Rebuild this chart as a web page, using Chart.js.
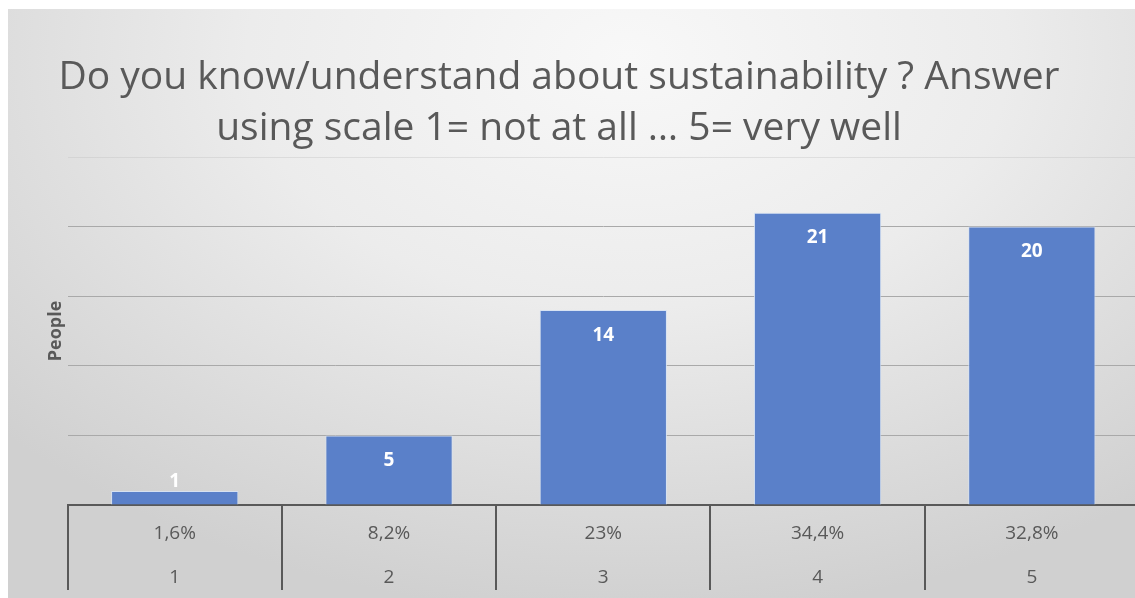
<!DOCTYPE html>
<html lang="en">
<head>
<meta charset="UTF-8">
<title>Sustainability survey</title>
<script src="https://cdn.jsdelivr.net/npm/chart.js"></script>
<style>
    html, body { margin: 0; padding: 0; background: #fff; overflow: hidden; width: 1135px; height: 598px; }
    .bg {
        position: absolute; left: 8px; top: 9px; width: 1127px; height: 589px;
        background: radial-gradient(ellipse 75% 95% at 55% 8%, #f8f8f8 0%, #ececec 45%, #dadada 80%, #d0d0d0 100%);
    }
    #chart { position: absolute; left: -21px; top: 9px; }
</style>
</head>
<body>
<div class="bg"></div>
<canvas id="chart" width="1160" height="591"></canvas>
<script>
    // values
    const categories = ['1', '2', '3', '4', '5'];
    const people = [1, 5, 14, 21, 20];
    const shares = ['1,6%', '8,2%', '23%', '34,4%', '32,8%'];
    const titleLines = ['Do you know/understand about sustainability ? Answer', 'using scale 1= not at all … 5= very well'];

    const textGrey = '#595959';

    // white counts on (or just above) each bar
    const barLabels = {
        id: 'barLabels',
        afterDatasetsDraw(chart) {
            const ctx = chart.ctx;
            const meta = chart.getDatasetMeta(0);
            ctx.save();
            ctx.font = 'bold 19px "Open Sans"';
            ctx.fillStyle = '#ffffff';
            ctx.textAlign = 'center';
            ctx.textBaseline = 'middle';
            meta.data.forEach((bar, i) => {
                const h = bar.base - bar.y;
                const y = h > 40 ? bar.y + 25 : bar.y - 9;
                ctx.fillText(String(people[i]), bar.x, y);
            });
            ctx.restore();
        }
    };

    new Chart(document.getElementById('chart'), {
        type: 'bar',
        data: {
            labels: categories.map((c, i) => [shares[i], c]),
            datasets: [{
                label: 'People',
                data: people,
                backgroundColor: '#5a80c9',
                borderColor: 'rgba(214,226,244,0.9)',
                borderWidth: 1,
                categoryPercentage: 1,
                barPercentage: 0.594
            }]
        },
        options: {
            responsive: false,
            animation: false,
            devicePixelRatio: 1,
            layout: { padding: 0 },
            plugins: {
                legend: { display: false },
                tooltip: { enabled: false },
                title: {
                    display: true,
                    text: titleLines,
                    color: textGrey,
                    font: { family: '"Open Sans"', size: 39, weight: 'normal', lineHeight: '51px' },
                    padding: { top: 43, bottom: 3 }
                }
            },
            scales: {
                x: {
                    border: { display: true, color: textGrey, width: 2 },
                    grid: {
                        offset: true,
                        drawOnChartArea: false,
                        drawTicks: true,
                        tickLength: 85,
                        color: textGrey,
                        lineWidth: 2
                    },
                    ticks: {
                        color: textGrey,
                        padding: -78,
                        maxRotation: 0,
                        font: { family: '"Open Sans"', size: 19, lineHeight: '44px' }
                    },
                    // empty title: the negative tick padding is counted twice when the axis is sized,
                    // this gives the height back so the table row labels are not clipped
                    title: {
                        display: true,
                        text: '',
                        font: { size: 1, lineHeight: '0px' },
                        padding: { top: 78, bottom: 0 }
                    }
                },
                y: {
                    min: 0,
                    max: 25,
                    border: { display: false },
                    ticks: { display: false, stepSize: 5 },
                    grid: {
                        drawTicks: false,
                        color: ctx => ctx.tick && ctx.tick.value === 25 ? 'rgba(190,190,190,0.35)' : '#a9a9a9',
                        lineWidth: 1
                    },
                    title: {
                        display: true,
                        text: 'People',
                        color: textGrey,
                        font: { family: '"Open Sans"', size: 18, weight: 'bold', lineHeight: 1.2 },
                        padding: { top: 66, bottom: 1 }
                    }
                }
            }
        },
        plugins: [barLabels]
    });
</script>
</body>
</html>
